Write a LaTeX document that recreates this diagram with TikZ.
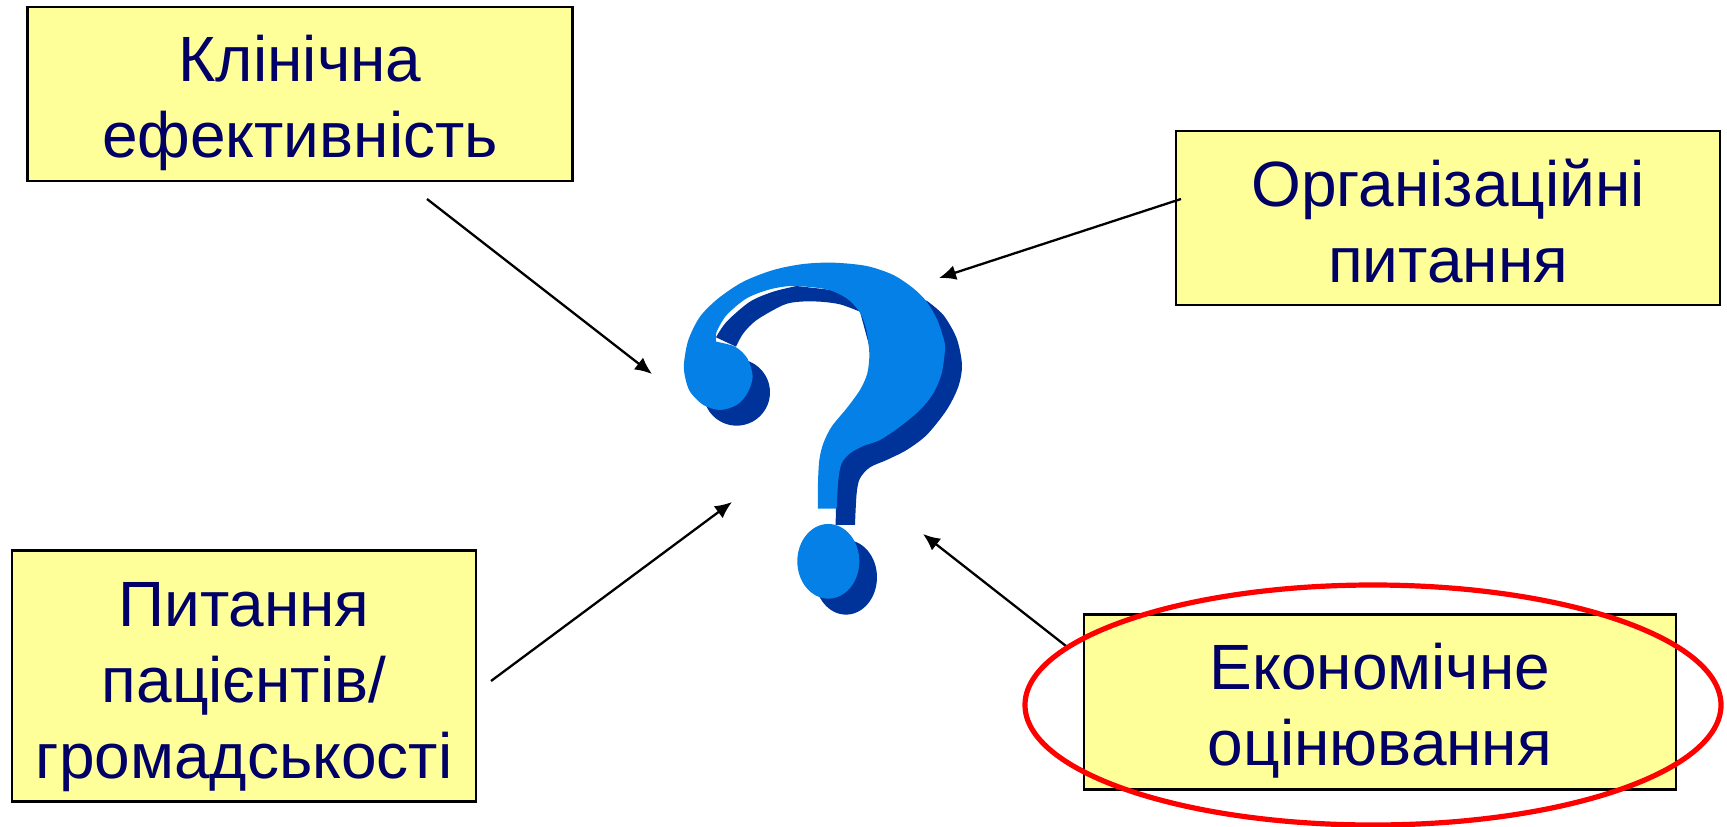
\documentclass[tikz,border=0pt]{standalone}
\usepackage{fontspec}
\setmainfont{Liberation Sans}
\usetikzlibrary{positioning,arrows.meta,shapes.geometric}
\definecolor{boxfill}{HTML}{FFFF99}
\definecolor{boxtext}{HTML}{000066}
\definecolor{markfront}{HTML}{0480E6}
\definecolor{markback}{HTML}{003399}
\tikzstyle{topicbox}=[draw=black,fill=boxfill,text=boxtext,line width=2.2pt,align=center,inner sep=0pt,
  font=\fontsize{64}{76}\selectfont]
\tikzstyle{toptext}=[execute at begin node=\rule{0pt}{#1}]
\tikzstyle{ring}=[draw=red,ellipse,line width=5.2pt,inner sep=0pt,minimum width=696pt,minimum height=240pt]
\tikzstyle{pointer}=[draw,line width=2.3pt,-{Latex[length=17pt,width=15pt]}]

\begin{document}
\begin{tikzpicture}[x=1pt,y=-1pt]
  \useasboundingbox (0,0) rectangle (1727,827);
  \node[topicbox,toptext=140pt,minimum width=545pt,minimum height=174pt] (clinic) at (300,94) {Клінічна\\ефективність};
  \node[topicbox,toptext=130pt,minimum width=544pt,minimum height=174pt] (orgs) at (1448,218) {Організаційні\\питання};
  \node[topicbox,toptext=218pt,minimum width=464pt,minimum height=251pt] (patients) at (244,676) {Питання\\пацієнтів/\\громадськості};
  \node[topicbox,toptext=140pt,minimum width=592pt,minimum height=175pt] (econ) at (1380,702) {Економічне\\оцінювання};

  % question mark, traced
  \begin{scope}[shift={(660,240)},x=.3333pt,y=-.3333pt]
    \fill[markback] (527,855) -- (530,650) -- (650,400)
      -- plot[smooth] coordinates {(600,215) (540,193) (480,185) (420,185) (370,195) (290,240) (250,280) (228,320)}
      -- plot[smooth] coordinates {(168,292) (200,245) (270,185) (340,155) (410,138)}
      -- (800,182)
      -- plot[smooth] coordinates {(800,182) (850,225) (890,295) (906,375) (895,440) (860,510) (800,585) (740,630)
        (680,660) (630,682) (600,715) (590,760) (585,855)}
      -- cycle;
    \fill[markback] (230,457) ellipse [x radius=100,y radius=100];
    \fill[markback] (558,1012) ellipse [x radius=93,y radius=112];
    \fill[markfront] plot[smooth] coordinates {(474,806) (474,730) (478,660) (490,610) (515,560) (560,505) (600,450)
        (622,400) (628,340) (618,265) (598,215) (560,175) (500,148) (400,138) (330,148) (260,175) (200,225) (170,275) (168,300)}
      -- plot[smooth] coordinates {(168,305) (225,320) (262,355) (278,410) (262,460) (230,495) (180,510)
        (130,495) (90,455) (75,410) (72,370) (85,300) (120,230) (175,175) (250,125) (340,90) (430,72) (520,68)
        (620,78) (700,105) (760,145) (800,185) (832,240) (852,300) (855,330) (845,400) (820,460) (780,510)
        (720,560) (660,600) (610,618) (570,640) (545,670) (535,720) (530,806)}
      -- cycle;
    \fill[markfront] (505,964) ellipse [x radius=93,y radius=112];
  \end{scope}

  \coordinate (clinicfrom) at (427,199);
  \coordinate (clinicto) at (652,374);
  \coordinate (orgsfrom) at (1181,199);
  \coordinate (orgsto) at (939,278);
  \coordinate (patientsfrom) at (491,681);
  \coordinate (patientsto) at (732,502);
  \coordinate (econfrom) at (1066,646);
  \coordinate (econto) at (923,534);
  \path
    (clinicfrom) edge[pointer] (clinicto)
    (orgsfrom) edge[pointer] (orgsto)
    (patientsfrom) edge[pointer] (patientsto)
    (econfrom) edge[pointer] (econto);

  \node[ring] (econring) at (1373,705) {};
\end{tikzpicture}
\end{document}
